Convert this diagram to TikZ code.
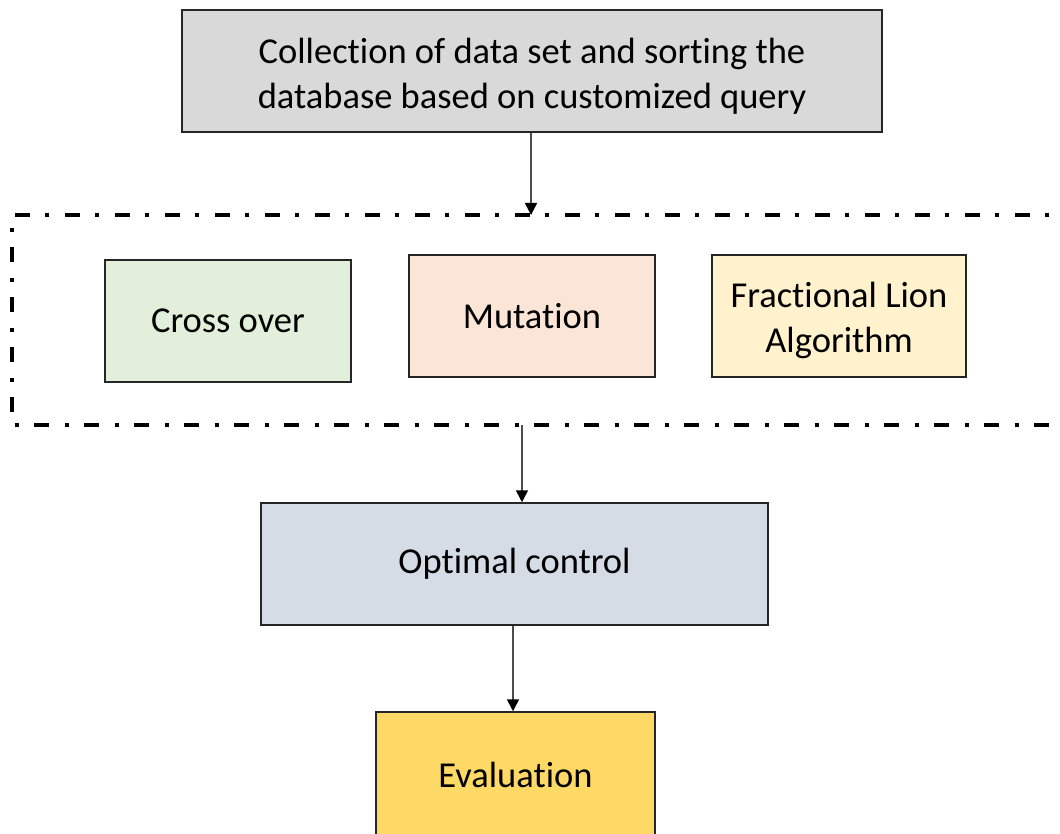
\documentclass[tikz,border=0pt]{standalone}
\usepackage{fontspec}
\setmainfont{Carlito}[Ligatures=NoCommon]
\usetikzlibrary{arrows.meta}
\definecolor{cgray}{HTML}{D9D9D9}
\definecolor{cgreen}{HTML}{E2EFDA}
\definecolor{corange}{HTML}{FBE5D6}
\definecolor{cyellow}{HTML}{FFF2CC}
\definecolor{cblue}{HTML}{D6DCE5}
\definecolor{cgold}{HTML}{FFD966}
\newcommand{\lowstrut}{\rule{0pt}{35pt}}
\tikzset{
  box/.style={draw=black!85, line width=1.5pt, inner sep=0pt, align=center,
    font=\fontsize{36.5}{45}\selectfont},
  flow/.style={draw=black!70, line width=1.5pt, -{Triangle[width=12pt,length=12pt,color=black]}},
  frame/.style={draw=black, line width=4pt, dash pattern=on 15pt off 16pt on 4pt off 15pt}
}
\begin{document}
\begin{tikzpicture}[x=1pt,y=-1pt]
\useasboundingbox (0,0) rectangle (1060,834);
\clip (0,0) rectangle (1060,834);
\node[box, fill=cgray, minimum width=700pt, minimum height=122pt] (collect) at (532,71)
  {\lowstrut Collection of data set and sorting the\\database based on customized query};
\draw[frame] (1080,215) -- (12,215) -- (12,425) -- (1080,425);
\coordinate (ftop) at (531,215);
\coordinate (fbot) at (522,425);
\node[box, fill=cgreen, minimum width=246pt, minimum height=122pt] (cross) at (228,321) {Cross over};
\node[box, fill=corange, minimum width=246pt, minimum height=122pt] (mut) at (532,316) {Mutation};
\node[box, fill=cyellow, minimum width=254pt, minimum height=122pt] (lion) at (839,316) {\lowstrut Fractional Lion\\Algorithm};
\node[box, fill=cblue, minimum width=507pt, minimum height=122pt] (opt) at (514.5,564) {Optimal control};
\node[box, fill=cgold, minimum width=279pt, minimum height=126pt] (eval) at (515.5,775) {Evaluation};
\draw[flow] (collect.south -| ftop) -- (ftop);
\draw[flow] (fbot) -- (fbot |- opt.north);
\draw[flow] (opt.south -| 513,0) -- (eval.north -| 513,0);
\end{tikzpicture}
\end{document}
